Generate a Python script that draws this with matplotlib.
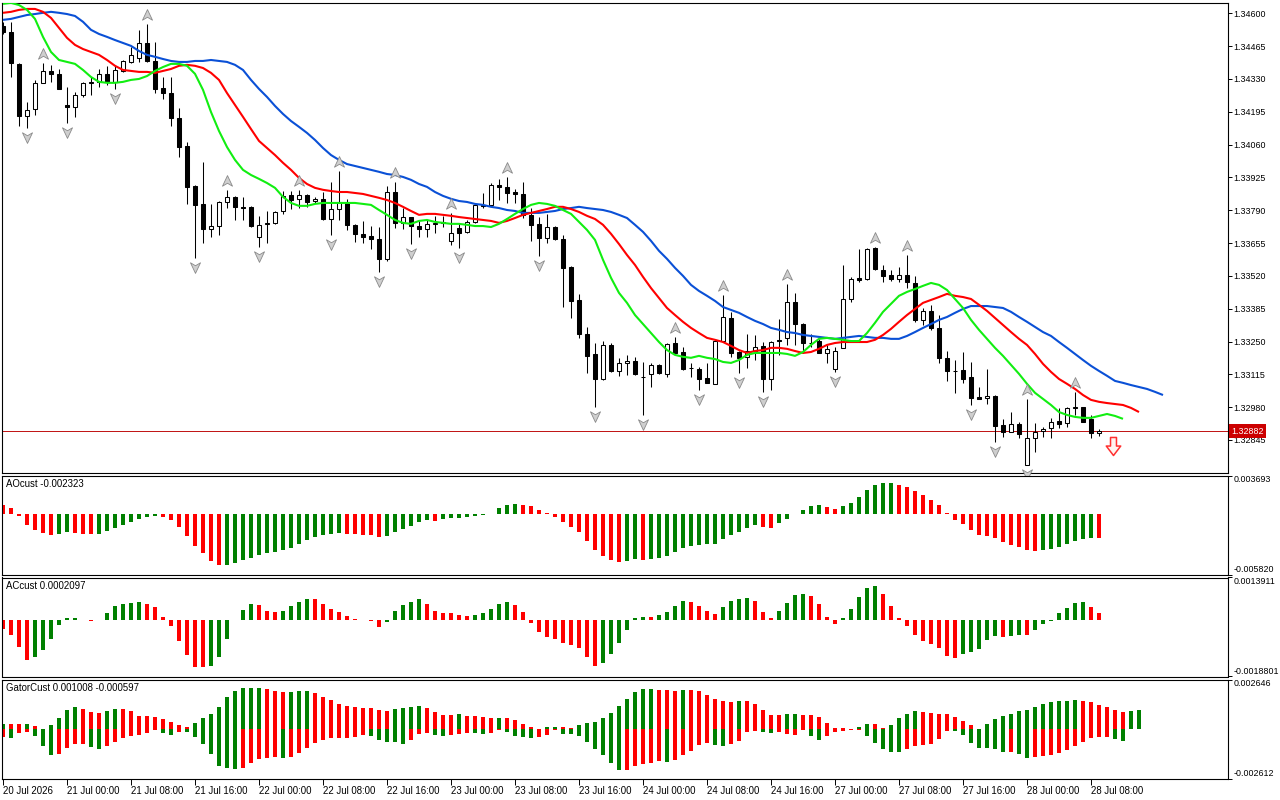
import numpy as np
import matplotlib
matplotlib.use("Agg")
import matplotlib.pyplot as plt
from matplotlib.path import Path
from matplotlib import transforms as mtrans

plt.rcParams['font.family'] = ['Liberation Sans', 'DejaVu Sans']

# ---------------- data (hourly bars, 20 Jul 16:00 .. 28 Jul 09:00) ----------------
open_ = [1.34548,1.34523,1.34392,1.34178,1.34207,1.34314,1.34363,1.34351,1.34223,1.34215,
1.34264,1.34312,1.34316,1.34351,1.34318,1.34363,1.34400,1.34416,1.34478,1.34404,
1.34293,1.34273,1.34170,1.34054,1.33890,1.33816,1.33713,1.33725,1.33824,1.33845,
1.33804,1.33802,1.33680,1.33734,1.33738,1.33787,1.33853,1.33837,1.33853,1.33828,
1.33837,1.33754,1.33795,1.33820,1.33730,1.33693,1.33684,1.33672,1.33590,1.33865,
1.33738,1.33762,1.33725,1.33713,1.33734,1.33738,1.33664,1.33717,1.33701,1.33742,
1.33812,1.33812,1.33894,1.33886,1.33865,1.33857,1.33771,1.33734,1.33676,1.33721,
1.33672,1.33557,1.33421,1.33281,1.33199,1.33096,1.33236,1.33129,1.33162,1.33170,
1.33106,1.33117,1.33154,1.33117,1.33244,1.33207,1.33141,1.33137,1.33100,1.33076,
1.33253,1.33347,1.33207,1.33187,1.33211,1.33232,1.33096,1.33257,1.33265,1.33413,
1.33322,1.33246,1.33253,1.33203,1.33137,1.33224,1.33425,1.33512,1.33508,1.33635,
1.33545,1.33524,1.33508,1.33524,1.33491,1.33339,1.33376,1.33306,1.33183,1.33129,
1.33133,1.33104,1.33022,1.33018,1.33026,1.32907,1.32878,1.32911,1.32743,1.32853,
1.32882,1.32895,1.32923,1.32915,1.32977,1.32979,1.32932,1.32874]
high_ = [1.34564,1.34564,1.34395,1.34235,1.34326,1.34396,1.34388,1.34371,1.34297,1.34277,
1.34318,1.34338,1.34371,1.34384,1.34384,1.34408,1.34462,1.34532,1.34556,1.34482,
1.34338,1.34338,1.34211,1.34071,1.33892,1.33989,1.33816,1.33826,1.33873,1.33847,
1.33845,1.33806,1.33767,1.33787,1.33787,1.33869,1.33869,1.33873,1.33857,1.33845,
1.33865,1.33906,1.33952,1.33837,1.33732,1.33746,1.33725,1.33721,1.33890,1.33906,
1.33799,1.33764,1.33750,1.33750,1.33767,1.33767,1.33779,1.33738,1.33750,1.33820,
1.33861,1.33902,1.33919,1.33927,1.33878,1.33906,1.33799,1.33762,1.33775,1.33725,
1.33688,1.33559,1.33446,1.33310,1.33244,1.33253,1.33244,1.33183,1.33195,1.33187,
1.33166,1.33162,1.33158,1.33244,1.33269,1.33228,1.33162,1.33146,1.33162,1.33261,
1.33442,1.33372,1.33211,1.33281,1.33277,1.33248,1.33253,1.33343,1.33487,1.33450,
1.33326,1.33281,1.33261,1.33236,1.33228,1.33565,1.33516,1.33631,1.33635,1.33639,
1.33565,1.33545,1.33557,1.33606,1.33520,1.33388,1.33400,1.33359,1.33211,1.33174,
1.33207,1.33166,1.33063,1.33137,1.33030,1.32932,1.32960,1.32919,1.33014,1.32915,
1.32899,1.32936,1.32977,1.32981,1.33043,1.32981,1.32948,1.32890]
low_ = [1.34515,1.34338,1.34137,1.34128,1.34182,1.34312,1.34318,1.34287,1.34149,1.34174,
1.34256,1.34264,1.34297,1.34305,1.34289,1.34359,1.34396,1.34400,1.34400,1.34273,
1.34248,1.34137,1.34009,1.33816,1.33594,1.33655,1.33680,1.33688,1.33799,1.33750,
1.33750,1.33721,1.33639,1.33655,1.33734,1.33775,1.33795,1.33799,1.33804,1.33820,
1.33750,1.33688,1.33750,1.33709,1.33660,1.33655,1.33631,1.33536,1.33581,1.33717,
1.33713,1.33651,1.33680,1.33680,1.33697,1.33721,1.33647,1.33635,1.33697,1.33738,
1.33799,1.33808,1.33832,1.33820,1.33820,1.33758,1.33664,1.33602,1.33655,1.33668,
1.33392,1.33347,1.33265,1.33121,1.32981,1.33092,1.33125,1.33108,1.33113,1.33113,
1.32948,1.33063,1.33117,1.33104,1.33201,1.33133,1.33104,1.33051,1.33078,1.33074,
1.33251,1.33187,1.33121,1.33141,1.33174,1.33043,1.33051,1.33195,1.33236,1.33236,
1.33203,1.33228,1.33201,1.33162,1.33125,1.33222,1.33413,1.33495,1.33503,1.33545,
1.33495,1.33499,1.33495,1.33471,1.33331,1.33318,1.33298,1.33162,1.33088,1.33039,
1.33080,1.32989,1.33012,1.32993,1.32837,1.32858,1.32876,1.32853,1.32741,1.32796,
1.32858,1.32853,1.32895,1.32899,1.32948,1.32917,1.32853,1.32862]
close_ = [1.34523,1.34396,1.34178,1.34203,1.34314,1.34363,1.34351,1.34289,1.34215,1.34264,
1.34314,1.34316,1.34351,1.34318,1.34367,1.34404,1.34429,1.34478,1.34404,1.34289,
1.34273,1.34170,1.34050,1.33886,1.33812,1.33713,1.33725,1.33824,1.33845,1.33804,
1.33799,1.33725,1.33730,1.33738,1.33783,1.33849,1.33832,1.33853,1.33824,1.33837,
1.33754,1.33795,1.33824,1.33730,1.33693,1.33680,1.33672,1.33590,1.33865,1.33738,
1.33762,1.33725,1.33713,1.33734,1.33736,1.33742,1.33697,1.33697,1.33742,1.33812,
1.33808,1.33894,1.33886,1.33861,1.33857,1.33771,1.33730,1.33676,1.33721,1.33672,
1.33553,1.33417,1.33281,1.33191,1.33096,1.33236,1.33129,1.33162,1.33170,1.33117,
1.33104,1.33154,1.33121,1.33240,1.33203,1.33137,1.33141,1.33096,1.33080,1.33253,
1.33351,1.33203,1.33183,1.33211,1.33228,1.33096,1.33248,1.33253,1.33413,1.33322,
1.33244,1.33244,1.33203,1.33220,1.33211,1.33425,1.33508,1.33503,1.33631,1.33549,
1.33520,1.33508,1.33524,1.33495,1.33339,1.33376,1.33306,1.33183,1.33129,1.33127,
1.33096,1.33018,1.33014,1.33026,1.32903,1.32878,1.32911,1.32870,1.32853,1.32878,
1.32890,1.32919,1.32911,1.32977,1.32979,1.32919,1.32874,1.32882]

# Alligator (jaw shifted 8, teeth 5, lips 3 bars forward)
jaw = [1.34573,1.34577,1.34585,1.34593,1.34597,1.34602,1.34606,1.34602,1.34597,1.34589,
1.34565,1.34532,1.34515,1.34503,1.34490,1.34478,1.34466,1.34445,1.34429,1.34421,
1.34412,1.34404,1.34400,1.34400,1.34404,1.34404,1.34408,1.34404,1.34400,1.34388,
1.34367,1.34326,1.34289,1.34256,1.34219,1.34186,1.34157,1.34133,1.34108,1.34079,
1.34046,1.34017,1.33997,1.33980,1.33972,1.33964,1.33956,1.33948,1.33939,1.33935,
1.33927,1.33915,1.33898,1.33886,1.33865,1.33849,1.33837,1.33828,1.33824,1.33816,
1.33812,1.33804,1.33799,1.33791,1.33787,1.33779,1.33779,1.33779,1.33783,1.33787,
1.33795,1.33799,1.33804,1.33799,1.33795,1.33791,1.33783,1.33771,1.33758,1.33730,
1.33701,1.33664,1.33623,1.33590,1.33553,1.33520,1.33483,1.33458,1.33438,1.33417,
1.33392,1.33380,1.33368,1.33351,1.33335,1.33322,1.33306,1.33298,1.33289,1.33285,
1.33277,1.33273,1.33269,1.33265,1.33261,1.33265,1.33269,1.33273,1.33269,1.33265,
1.33265,1.33261,1.33261,1.33273,1.33289,1.33306,1.33322,1.33339,1.33351,1.33368,
1.33384,1.33396,1.33396,1.33396,1.33392,1.33388,1.33372,1.33351,1.33331,1.33310,
1.33289,1.33273,1.33248,1.33224,1.33199,1.33174,1.33150,1.33129,1.33109,1.33088,
1.33080,1.33071,1.33063,1.33055,1.33043,1.33030]
teeth = [1.34602,1.34606,1.34614,1.34618,1.34618,1.34606,1.34581,1.34540,1.34499,1.34470,
1.34453,1.34441,1.34429,1.34408,1.34384,1.34367,1.34363,1.34359,1.34359,1.34355,
1.34363,1.34371,1.34384,1.34388,1.34384,1.34375,1.34355,1.34326,1.34272,1.34223,
1.34174,1.34124,1.34075,1.34046,1.34017,1.33985,1.33956,1.33923,1.33898,1.33882,
1.33874,1.33869,1.33865,1.33865,1.33861,1.33857,1.33849,1.33841,1.33832,1.33820,
1.33804,1.33787,1.33771,1.33775,1.33775,1.33771,1.33767,1.33762,1.33758,1.33754,
1.33750,1.33746,1.33738,1.33746,1.33758,1.33771,1.33779,1.33787,1.33795,1.33804,
1.33804,1.33795,1.33783,1.33767,1.33754,1.33730,1.33693,1.33651,1.33606,1.33565,
1.33516,1.33470,1.33429,1.33388,1.33359,1.33331,1.33306,1.33285,1.33265,1.33257,
1.33248,1.33232,1.33215,1.33203,1.33211,1.33215,1.33224,1.33224,1.33220,1.33211,
1.33203,1.33207,1.33220,1.33236,1.33244,1.33248,1.33248,1.33248,1.33248,1.33257,
1.33277,1.33302,1.33331,1.33359,1.33384,1.33409,1.33421,1.33433,1.33446,1.33438,
1.33433,1.33425,1.33401,1.33376,1.33347,1.33318,1.33289,1.33261,1.33236,1.33199,
1.33158,1.33125,1.33096,1.33076,1.33055,1.33030,1.33010,1.33002,1.32997,1.32993,
1.32989,1.32977,1.32960]
lips = [1.34639,1.34643,1.34634,1.34614,1.34577,1.34503,1.34441,1.34408,1.34400,1.34392,
1.34367,1.34338,1.34318,1.34314,1.34314,1.34318,1.34326,1.34330,1.34342,1.34363,
1.34379,1.34392,1.34392,1.34384,1.34351,1.34285,1.34194,1.34116,1.34050,1.33997,
1.33956,1.33935,1.33919,1.33902,1.33882,1.33845,1.33820,1.33808,1.33808,1.33816,
1.33820,1.33820,1.33820,1.33820,1.33820,1.33816,1.33812,1.33791,1.33771,1.33750,
1.33738,1.33734,1.33746,1.33750,1.33742,1.33738,1.33734,1.33734,1.33730,1.33725,
1.33725,1.33721,1.33734,1.33754,1.33775,1.33795,1.33812,1.33820,1.33816,1.33808,
1.33791,1.33775,1.33742,1.33709,1.33668,1.33586,1.33512,1.33450,1.33409,1.33359,
1.33322,1.33285,1.33248,1.33215,1.33195,1.33187,1.33183,1.33191,1.33183,1.33178,
1.33166,1.33162,1.33174,1.33195,1.33203,1.33203,1.33203,1.33203,1.33199,1.33191,
1.33207,1.33236,1.33261,1.33265,1.33261,1.33257,1.33252,1.33252,1.33285,1.33327,
1.33372,1.33405,1.33438,1.33454,1.33466,1.33479,1.33491,1.33483,1.33462,1.33425,
1.33388,1.33339,1.33298,1.33261,1.33224,1.33191,1.33154,1.33117,1.33076,1.33039,
1.33014,1.32989,1.32960,1.32948,1.32940,1.32936,1.32936,1.32944,1.32952,1.32944,
1.32932]

fractal_up = [5, 18, 28, 37, 42, 49, 56, 63, 84, 90, 98, 109, 113, 128, 134]
fractal_dn = [3, 8, 14, 24, 32, 41, 47, 51, 57, 67, 74, 80, 87, 92, 95, 104, 121, 124, 128]
sell_signal_bar = 139
sell_signal_price = 1.32821
current_price = 1.32882

# Awesome oscillator (x1e-6) and bar colours (g = rising, r = falling)
ao = [817,529,-209,-1073,-1586,-1842,-2034,-1938,-1746,-1842,
-1938,-1971,-1938,-1650,-1362,-1073,-785,-529,-305,-209,
-305,-593,-1233,-2131,-3092,-3764,-4533,-4918,-4886,-4693,
-4437,-4213,-3988,-3796,-3636,-3476,-3284,-2931,-2515,-2239,
-2066,-1970,-1874,-1906,-1970,-2002,-2066,-2258,-2162,-1778,
-1458,-1170,-817,-593,-721,-529,-401,-369,-336,-240,
-144,36,529,817,913,881,721,336,54,-305,
-817,-1297,-1778,-2643,-3508,-4084,-4469,-4661,-4565,-4373,
-4404,-4373,-4277,-4084,-3700,-3316,-3123,-3027,-2931,-2899,
-2451,-2066,-1778,-1393,-1105,-1297,-1330,-913,-529,-16,
336,721,817,625,432,721,1009,1586,2258,2803,
2931,2963,2739,2611,2162,1778,1297,817,80,-593,
-977,-1586,-2066,-2162,-2354,-2739,-3027,-3219,-3508,-3604,
-3508,-3412,-3219,-2931,-2643,-2380,-2290,-2323]
ao_col = ("rrrrrrrggrrrggggggggrrrrrrrrggggggggggggggg" "rrrrrgggggg" "r" "gggggggggg"
          "rrrrrrrrrrrrr" "gg" "r" "gggggggggggggg" "rr" "gggggg" "rr" "ggggggg"
          "rrrrrrrrrrrrrrrrrr" "ggggggg" "r")

# Accelerator oscillator (x1e-6)
ac = [-306,-521,-917,-1322,-1250,-989,-647,-189,63,65,
-9,-36,-18,234,441,530,557,566,530,405,
99,-216,-692,-1178,-1573,-1582,-1546,-1250,-647,-9,
333,530,494,297,261,297,441,593,692,665,
529,363,264,132,33,-22,-55,-231,-66,297,
496,595,694,529,297,231,220,165,132,165,
231,363,529,595,496,264,-99,-397,-562,-628,
-760,-826,-925,-1223,-1520,-1421,-1124,-760,-330,66,
99,88,165,264,463,628,595,463,297,198,
430,628,694,727,628,264,66,297,562,826,
859,793,529,99,-132,66,363,760,1057,1124,
859,463,66,-198,-496,-694,-793,-925,-1190,-1256,
-1124,-1057,-958,-661,-529,-562,-529,-496,-507,-330,
-132,-33,231,397,562,573,430,210]
ac_col = ("rrrr" "gggggg" "rr" "gggggg" "rrrrrrrr" "gggggg" "rrr" "gggg" "rrrrrrrrr"
          "ggggg" "rrrrrr" "ggggg" "rrrrrrrrrrr" "gggggg" "r" "gggg" "rrrr" "gggg"
          "rrr" "gggg" "rrrr" "ggggg" "rrrrrrrrrr" "ggggg" "r" "gg" "r" "ggggggg" "rr")

# Gator oscillator (x1e-6): upper = |jaw-teeth|, lower = -|teeth-lips|
gator_up = [283,283,283,283,177,35,230,602,1027,1186,
1080,920,867,991,1080,1075,974,708,705,655,
549,389,230,124,336,602,814,1186,1717,2036,
2195,2200,2205,2142,2036,1975,1990,2036,2045,1929,
1717,1558,1345,1239,1186,1133,1130,1027,974,1080,
1133,1186,1239,1133,920,761,758,814,708,705,
655,602,605,600,496,283,124,18,124,126,
122,71,230,336,389,602,867,1239,1611,1982,
2142,2145,2089,2085,2036,2089,2085,2036,1823,1611,
1505,1452,1505,1500,1345,1027,761,758,814,816,
761,758,655,336,71,70,18,124,283,280,
71,230,602,814,974,920,867,814,812,655,
443,230,18,283,549,708,814,974,1027,1186,
1345,1452,1505,1508,1558,1505,1452,1292,1186,1027,
920,974,1008]
gator_up_col = ("grrgrggggg" "rrrggrrrrr" "rrrrgggggg" "gggrrrgggr" "rrrrrrrrrg"
                "gggrrrrgrr" "rrgrrrrrgg" "rrgggggggg" "ggrrrgrrrr" "rrgrrrrrgg"
                "rrrrrrrggr" "rggggrrrrr" "rrrggggggg" "gggggrrrrr" "rgg")
gator_lo = [-389,-443,-212,-124,-336,-885,-1363,-1292,-974,-761,
-761,-920,-1027,-885,-655,-443,-336,-301,-212,-35,
-177,-301,-124,-124,-389,-761,-1310,-1929,-2036,-2089,
-2080,-1770,-1558,-1505,-1452,-1505,-1452,-1239,-974,-708,
-549,-443,-440,-437,-434,-283,-336,-549,-655,-660,
-761,-549,-230,-177,-283,-336,-283,-230,-177,-180,
-230,-177,-18,-124,-336,-389,-443,-389,-283,-18,
-230,-232,-336,-655,-1027,-1345,-1770,-2142,-2140,-1929,
-1823,-1770,-1664,-1717,-1611,-1345,-1133,-814,-708,-814,
-867,-761,-602,-124,-71,-124,-177,-124,-230,-283,
-18,-336,-549,-336,-124,-71,-18,-16,-336,-708,
-1027,-1186,-1190,-1027,-867,-814,-761,-496,-71,-75,
-283,-708,-974,-976,-1027,-1186,-1184,-1292,-1505,-1452,
-1398,-1345,-1239,-1080,-867,-655,-443,-389,-387,-496,-597]
gator_lo_col = ("rgrrgggrrr" "rggrrrrrrr" "ggrggggggg" "rrrrrgrrrr" "rrrrrrgggg"
                "grrrggrrrg" "grrggggrrr" "ggggggggrr" "rrrgrrrrrg" "grrrrggrrr"
                "rggrrrrrgg" "gggrrrrrrg" "ggggggrggr" "rrrrrrrrrgg")

time_idx = [0, 8, 16, 24, 32, 40, 48, 56, 64, 72, 80, 88, 96, 104, 112, 120, 128, 136]
time_labels = ["20 Jul 2026", "21 Jul 00:00", "21 Jul 08:00", "21 Jul 16:00", "22 Jul 00:00",
               "22 Jul 08:00", "22 Jul 16:00", "23 Jul 00:00", "23 Jul 08:00", "23 Jul 16:00",
               "24 Jul 00:00", "24 Jul 08:00", "24 Jul 16:00", "27 Jul 00:00", "27 Jul 08:00",
               "27 Jul 16:00", "28 Jul 00:00", "28 Jul 08:00"]
price_ticks = [1.34600, 1.34465, 1.34330, 1.34195, 1.34060, 1.33925, 1.33790, 1.33655,
               1.33520, 1.33385, 1.33250, 1.33115, 1.32980, 1.32845]
ao_range = (-0.005820, 0.003693)
ac_range = (-0.0018801, 0.0013911)
gator_range = (-0.002612, 0.002646)

# ---------------- drawing ----------------
W, H = 1280, 800
fig = plt.figure(figsize=(12.8, 8), dpi=100)
fig.patch.set_facecolor('white')

def ax_px(x0, y0, x1, y1):
    return fig.add_axes([x0 / W, 1 - y1 / H, (x1 - x0) / W, (y1 - y0) / H])

ax_m = ax_px(2, 2.7, 1227.5, 472.7)
ax_ao = ax_px(2, 475.5, 1227.5, 574.5)
ax_ac = ax_px(2, 577.5, 1227.5, 676.5)
ax_gt = ax_px(2, 679.5, 1227.5, 778.5)

XMIN = -0.125
XMAX = XMIN + 1225.5 / 8.0
GREEN = '#008000'
RED = '#ff0000'
cmap = {'g': GREEN, 'r': RED}
FS = 6.9      # time / title text
FSY = 6.4     # right-hand scale labels

for a in (ax_m, ax_ao, ax_ac, ax_gt):
    a.set_xlim(XMIN, XMAX)
    a.set_facecolor('white')
    for s in a.spines.values():
        s.set_color('black')
        s.set_linewidth(0.8)
    a.yaxis.tick_right()
    a.tick_params(axis='y', direction='out', length=3, width=0.7, labelsize=FSY, pad=1.5,
                  colors='black')
    a.tick_params(axis='x', bottom=False, labelbottom=False)

# main price chart
O = np.array(open_); Hh = np.array(high_); L = np.array(low_); C = np.array(close_)
n = len(O)
x = np.arange(n)
ax_m.set_ylim(1.327105, 1.346436)
ax_m.vlines(x, L, Hh, color='black', lw=0.75, zorder=2)
bull = C >= O
body_lo = np.minimum(O, C)
body_h = np.maximum(np.abs(C - O), 0.000004)
ax_m.bar(x, body_h, bottom=body_lo, width=0.58,
         color=np.where(bull, 'white', 'black'), edgecolor='black', linewidth=0.75, zorder=3)

ax_m.plot(np.arange(len(jaw)), jaw, color='#0a50d6', lw=1.5, zorder=4, solid_capstyle='butt')
ax_m.plot(np.arange(len(teeth)), teeth, color='#ff0000', lw=1.5, zorder=4, solid_capstyle='butt')
ax_m.plot(np.arange(len(lips)), lips, color='#11ee11', lw=1.5, zorder=4, solid_capstyle='butt')

ax_m.axhline(current_price, color='#c01010', lw=0.7, zorder=1)

up_path = Path([(0, 1), (0.85, -0.8), (0, -0.3), (-0.85, -0.8), (0, 1)],
               [Path.MOVETO, Path.LINETO, Path.LINETO, Path.LINETO, Path.CLOSEPOLY])
dn_path = Path([(0, -1), (0.85, 0.8), (0, 0.3), (-0.85, 0.8), (0, -1)],
               [Path.MOVETO, Path.LINETO, Path.LINETO, Path.LINETO, Path.CLOSEPOLY])
tr_up = mtrans.offset_copy(ax_m.transData, fig=fig, x=0, y=9, units='dots')
tr_dn = mtrans.offset_copy(ax_m.transData, fig=fig, x=0, y=-9, units='dots')
ax_m.plot(fractal_up, Hh[fractal_up], ls='none', marker=up_path, markersize=8.5,
          mfc='#cfcfcf', mec='#8a8a8a', mew=0.6, transform=tr_up, zorder=5, clip_on=False)
ax_m.plot(fractal_dn, L[fractal_dn], ls='none', marker=dn_path, markersize=8.5,
          mfc='#cfcfcf', mec='#8a8a8a', mew=0.6, transform=tr_dn, zorder=5, clip_on=False)

sell_path = Path([(-0.33, 1), (0.33, 1), (0.33, 0.05), (0.8, 0.05), (0, -1), (-0.8, 0.05),
                  (-0.33, 0.05), (-0.33, 1)],
                 [Path.MOVETO] + [Path.LINETO] * 6 + [Path.CLOSEPOLY])
ax_m.plot([sell_signal_bar - 0.25], [sell_signal_price], ls='none', marker=sell_path,
          markersize=13, mfc='#fff4f0', mec='#ff3030', mew=1.1, zorder=6)

ax_m.set_yticks(price_ticks)
ax_m.set_yticklabels([f"{p:.5f}" for p in price_ticks])
bt = mtrans.blended_transform_factory(ax_m.transAxes, ax_m.transData)
ax_m.text(1.0 + 3.5 / 1225.5, current_price, f"{current_price:.5f}", transform=bt,
          ha='left', va='center', fontsize=FSY, color='white',
          bbox=dict(boxstyle='square,pad=0.25', fc='#cc0000', ec='none'),
          zorder=10, clip_on=False)

# sub panels
def sub_panel(a, vals, cols, rng, labs, title):
    v = np.array(vals) * 1e-6
    a.bar(np.arange(len(v)), v, width=0.6, color=[cmap[c] for c in cols], linewidth=0, zorder=2)
    a.set_ylim(*rng)
    a.set_yticks([rng[1], rng[0]])
    a.set_yticklabels(labs)
    tl = a.get_yticklabels()
    tl[0].set_va('top')
    tl[1].set_va('bottom')
    a.annotate(title, xy=(0, 1), xycoords='axes fraction', xytext=(4, -3.5),
               textcoords='offset pixels', ha='left', va='top', fontsize=FS, color='black')

sub_panel(ax_ao, ao, ao_col, ao_range, ["0.003693", "-0.005820"], "AOcust -0.002323")
sub_panel(ax_ac, ac, ac_col, ac_range, ["0.0013911", "-0.0018801"], "ACcust 0.0002097")

gu = np.array(gator_up) * 1e-6
gl = np.array(gator_lo) * 1e-6
ax_gt.bar(np.arange(len(gu)), gu, width=0.6, color=[cmap[c] for c in gator_up_col], linewidth=0)
ax_gt.bar(np.arange(len(gl)), gl, width=0.6, color=[cmap[c] for c in gator_lo_col], linewidth=0)
ax_gt.set_ylim(*gator_range)
ax_gt.set_yticks([gator_range[1], gator_range[0]])
ax_gt.set_yticklabels(["0.002646", "-0.002612"])
tl = ax_gt.get_yticklabels(); tl[0].set_va('top'); tl[1].set_va('bottom')
ax_gt.annotate("GatorCust 0.001008 -0.000597", xy=(0, 1), xycoords='axes fraction',
               xytext=(4, -3.5), textcoords='offset pixels', ha='left', va='top',
               fontsize=FS, color='black')

ax_gt.tick_params(axis='x', bottom=True, labelbottom=True, direction='out', length=4,
                  width=0.7, labelsize=FS, pad=1.5)
ax_gt.set_xticks(time_idx)
ax_gt.set_xticklabels(time_labels)
for t in ax_gt.get_xticklabels():
    t.set_ha('left')

fig.savefig("out.png", dpi=100, facecolor='white')
